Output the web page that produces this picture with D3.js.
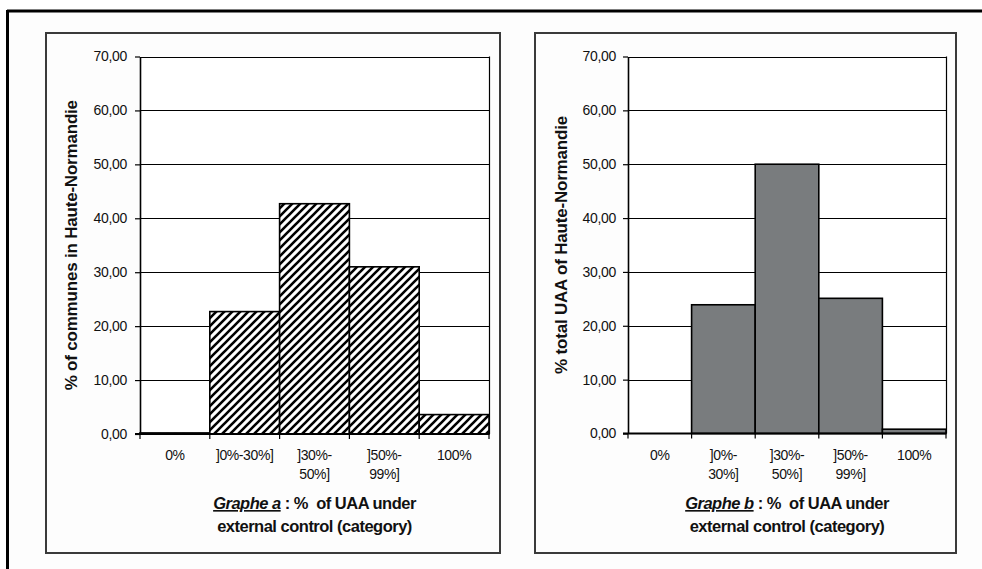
<!DOCTYPE html>
<html>
<head>
<meta charset="utf-8">
<script src="https://cdn.jsdelivr.net/npm/d3@7/dist/d3.min.js"></script>
<style>
  html, body { margin: 0; padding: 0; background: #ffffff; }
  svg { display: block; font-family: "Liberation Sans", Arial, sans-serif; }
</style>
</head>
<body>
<svg id="chart" width="982" height="569"></svg>
<script>
// Categories of UAA share under external control
const categories = ["0%", "]0%-30%]", "]30%-50%]", "]50%-99%]", "100%"];
// Axis label lines for each graph (long labels wrap)
const labelsA = [["0%"], ["]0%-30%]"], ["]30%-", "50%]"], ["]50%-", "99%]"], ["100%"]];
const labelsB = [["0%"], ["]0%-", "30%]"], ["]30%-", "50%]"], ["]50%-", "99%]"], ["100%"]];
// Graph a: % of communes in Haute-Normandie
const communesShare = [0.2, 22.7, 42.7, 31.0, 3.6];
// Graph b: % of total UAA of Haute-Normandie
const uaaShare = [0, 23.9, 50.0, 25.1, 0.8];
// Value axis ticks
const yTicks = [0, 10, 20, 30, 40, 50, 60, 70];
const yMax = 70;

const svg = d3.select("#chart");
const fmt = v => d3.format(".2f")(v).replace(".", ",");

// Outer frame (top and left rules)
svg.append("rect").attr("x", 8).attr("y", 11).attr("width", 974).attr("height", 558).attr("fill", "#fdfdfd");
svg.append("line").attr("x1", 7).attr("x2", 982).attr("y1", 11).attr("y2", 11)
  .attr("stroke", "#000").attr("stroke-width", 3);
svg.append("line").attr("x1", 7.5).attr("x2", 7.5).attr("y1", 10).attr("y2", 569)
  .attr("stroke", "#000").attr("stroke-width", 3);

// Diagonal hatch used by graph a
const defs = svg.append("defs");
const pat = defs.append("pattern").attr("id", "hatch")
  .attr("patternUnits", "userSpaceOnUse").attr("width", 8).attr("height", 8);
pat.append("rect").attr("width", 8).attr("height", 8).attr("fill", "#fff");
pat.append("path").attr("d", "M-2,2 L2,-2 M0,8 L8,0 M6,10 L10,6")
  .attr("stroke", "#000").attr("stroke-width", 2.6);

function drawPanel(cfg) {
  const g = svg.append("g");
  // Panel box
  g.append("rect").attr("x", cfg.box[0]).attr("y", cfg.box[1])
    .attr("width", cfg.box[2] - cfg.box[0]).attr("height", cfg.box[3] - cfg.box[1])
    .attr("fill", "#fdfdfd").attr("stroke", "#3a3a3a").attr("stroke-width", 2);

  const x = d3.scaleBand().domain(categories).range([cfg.left, cfg.right]).padding(0);
  const y = d3.scaleLinear().domain([0, yMax]).range([cfg.bottom, cfg.top]);

  // Plot area
  g.append("rect").attr("x", cfg.left).attr("y", cfg.top)
    .attr("width", cfg.right - cfg.left).attr("height", cfg.bottom - cfg.top)
    .attr("fill", "#fff");

  // Gridlines
  g.append("g").selectAll("line").data(yTicks.filter(t => t > 0)).join("line")
    .attr("x1", cfg.left).attr("x2", cfg.right)
    .attr("y1", d => Math.round(y(d)) + 0.5).attr("y2", d => Math.round(y(d)) + 0.5)
    .attr("stroke", "#000").attr("stroke-width", 1.2);
  // Right border of plot area
  g.append("line").attr("x1", cfg.right + 0.5).attr("x2", cfg.right + 0.5)
    .attr("y1", cfg.top).attr("y2", cfg.bottom)
    .attr("stroke", "#000").attr("stroke-width", 1.2);

  // Bars
  g.append("g").selectAll("rect").data(cfg.values).join("rect")
    .attr("x", (d, i) => x(categories[i]))
    .attr("y", d => y(d))
    .attr("width", x.bandwidth())
    .attr("height", d => cfg.bottom - y(d))
    .attr("fill", cfg.fill)
    .attr("stroke", d => d > 0 ? "#000" : "none")
    .attr("stroke-width", 1.6);

  // Value axis
  const yAxis = d3.axisLeft(y).tickValues(yTicks).tickFormat(fmt).tickSize(5).tickSizeOuter(0);
  const ya = g.append("g").attr("transform", `translate(${cfg.left},0)`).call(yAxis);
  ya.select(".domain").attr("stroke", "#000").attr("stroke-width", 1.6);
  ya.selectAll(".tick line").attr("stroke", "#000").attr("stroke-width", 1.2);
  ya.selectAll(".tick text").attr("font-size", 14).attr("fill", "#111")
    .attr("x", -(cfg.left - cfg.tickRight)).attr("letter-spacing", -0.3);

  // Category axis line with boundary ticks
  g.append("line").attr("x1", cfg.left - 5).attr("x2", cfg.right)
    .attr("y1", cfg.bottom).attr("y2", cfg.bottom)
    .attr("stroke", "#000").attr("stroke-width", 1.8);
  const bounds = categories.map(c => x(c)).concat([cfg.right]);
  g.append("g").selectAll("line").data(bounds).join("line")
    .attr("x1", d => d).attr("x2", d => d)
    .attr("y1", cfg.bottom).attr("y2", cfg.bottom + 5)
    .attr("stroke", "#000").attr("stroke-width", 1.2);

  // Category labels
  const lab = g.append("g").selectAll("text").data(cfg.labels).join("text")
    .attr("x", (d, i) => x(categories[i]) + x.bandwidth() / 2)
    .attr("y", cfg.bottom + 26)
    .attr("text-anchor", "middle").attr("font-size", 14).attr("fill", "#111")
    .attr("letter-spacing", -0.4);
  lab.selectAll("tspan").data(d => d).join("tspan")
    .attr("x", function () { return this.parentNode.getAttribute("x"); })
    .attr("dy", (d, i) => i === 0 ? 0 : 19)
    .text(d => d);

  // Value axis title
  g.append("text")
    .attr("transform", `translate(${cfg.titleX},${(cfg.top + cfg.bottom) / 2}) rotate(-90)`)
    .attr("text-anchor", "middle").attr("font-size", 17).attr("font-weight", "bold")
    .attr("fill", "#111").attr("letter-spacing", -0.2)
    .text(cfg.yTitle);

  // Caption
  const cx = (cfg.left + cfg.right) / 2;
  const cap = g.append("text").attr("x", cx).attr("y", 509)
    .attr("text-anchor", "middle").attr("font-size", 16.5).attr("font-weight", "bold")
    .attr("fill", "#111").attr("letter-spacing", -0.5).style("white-space", "pre");
  cap.append("tspan").attr("font-style", "italic").attr("text-decoration", "underline")
    .text(cfg.graphName);
  cap.append("tspan").text(" : %  of UAA under");
  g.append("text").attr("x", cx).attr("y", 532)
    .attr("text-anchor", "middle").attr("font-size", 16.5).attr("font-weight", "bold")
    .attr("fill", "#111").attr("letter-spacing", -0.5)
    .text("external control (category)");
}

drawPanel({
  box: [46, 33, 500, 553],
  left: 140, right: 489, top: 56.5, bottom: 434,
  tickRight: 127, titleX: 77,
  values: communesShare, fill: "url(#hatch)", labels: labelsA,
  yTitle: "% of communes in Haute-Normandie", graphName: "Graphe a"
});

drawPanel({
  box: [535, 33, 956, 553],
  left: 628, right: 946, top: 56.5, bottom: 433.5,
  tickRight: 616, titleX: 567,
  values: uaaShare, fill: "#797c7e", labels: labelsB,
  yTitle: "% total UAA of Haute-Normandie", graphName: "Graphe b"
});
</script>
</body>
</html>
